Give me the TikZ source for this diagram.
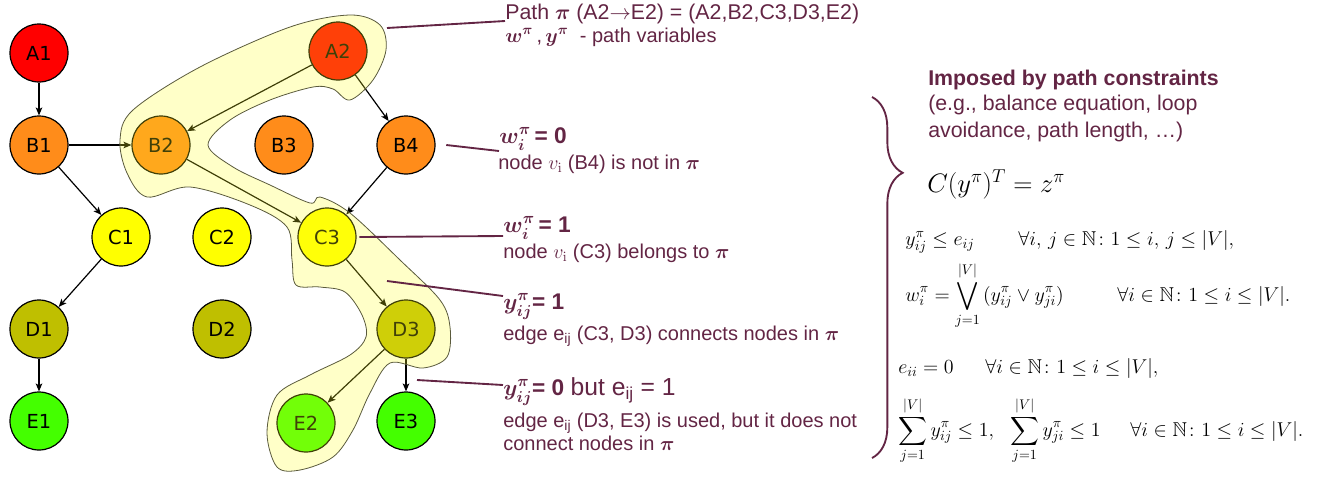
\documentclass[tikz,border=0pt]{standalone}
\usepackage{fix-cm}
\usepackage{amsmath,amssymb}
\usepackage[no-math]{fontspec}
\setmainfont{Liberation Sans}
\newfontfamily\nodefont{DejaVu Sans}
\usetikzlibrary{arrows.meta,decorations.pathreplacing}
\definecolor{tc}{RGB}{99,37,68}
\definecolor{cA}{RGB}{255,0,0}
\definecolor{cB}{RGB}{255,140,26}
\definecolor{cC}{RGB}{255,255,0}
\definecolor{cD}{RGB}{191,191,0}
\definecolor{cE}{RGB}{68,255,0}
\definecolor{blobc}{RGB}{255,255,35}
\definecolor{blobline}{RGB}{90,90,60}
\tikzset{
  gnode/.style={circle, draw=black, line width=0.9pt, minimum size=43.5pt, inner sep=0pt,
     font=\nodefont\fontsize{14.5}{16}\selectfont},
  edge/.style={line width=0.9pt, -{Stealth[length=6pt,width=5pt,inset=1.5pt]}},
  lbl/.style={anchor=base west, text=tc, inner sep=0pt, font=\fontsize{15}{18}\selectfont},
  head/.style={anchor=base west, text=tc, inner sep=0pt, font=\bfseries\fontsize{17}{20}\selectfont},
  pointer/.style={draw=tc, line width=1.4pt},
  eq/.style={anchor=base west, inner sep=0pt, font=\fontsize{15}{18}\selectfont},
}
\begin{document}
\begin{tikzpicture}[x=0.75pt,y=-0.75pt]
\useasboundingbox (0,0) rectangle (1320,476);
% nodes
\node[gnode, fill=cA] (A1) at (39,53) {A1};
\node[gnode, fill=cA] (A2) at (338,51) {A2};
\node[gnode, fill=cB] (B1) at (39,145) {B1};
\node[gnode, fill=cB] (B2) at (161,145) {B2};
\node[gnode, fill=cB] (B3) at (284,145) {B3};
\node[gnode, fill=cB] (B4) at (406,145) {B4};
\node[gnode, fill=cC] (C1) at (121,237) {C1};
\node[gnode, fill=cC] (C2) at (222,237) {C2};
\node[gnode, fill=cC] (C3) at (327,237) {C3};
\node[gnode, fill=cD] (D1) at (39,329) {D1};
\node[gnode, fill=cD] (D2) at (222,329) {D2};
\node[gnode, fill=cD] (D3) at (406,329) {D3};
\node[gnode, fill=cE] (E1) at (39,421) {E1};
\node[gnode, fill=cE] (E2) at (306,423) {E2};
\node[gnode, fill=cE] (E3) at (406,421) {E3};
% edges
\draw[edge] (A1) -- (B1);
\draw[edge] (B1) -- (B2);
\draw[edge] (B1) -- (C1);
\draw[edge] (A2) -- (B2);
\draw[edge] (A2) -- (B4);
\draw[edge] (B4) -- (C3);
\draw[edge] (B2) -- (C3);
\draw[edge] (C1) -- (D1);
\draw[edge] (D1) -- (E1);
\draw[edge] (C3) -- (D3);
\draw[edge] (D3) -- (E2);
\draw[edge] (D3) -- (E3);
% highlighted path region
\draw[fill=blobc, fill opacity=0.25, draw=blobline, line width=0.6pt]
  plot[smooth cycle, tension=0.55] coordinates {
  (350,15) (380,25) (386,50) (373,80) (350,100) (333,89) (313,87) (270,100)
  (230,120) (208,145) (233,167) (270,185) (310,203) (320,197) (350,213)
  (400,260) (440,300) (450,327) (447,357) (423,368) (390,363) (370,393)
  (353,430) (333,457) (300,470) (277,467) (267,433) (277,395) (310,375)
  (350,355) (366,337) (362,315) (345,292) (320,287) (296,285) (292,260)
  (287,227) (250,205) (190,187) (147,197) (127,173) (120,140) (133,110)
  (200,67) (290,27)};
% left-hand labels
\node[lbl, font=\fontsize{16}{19}\selectfont] (t1) at (505,19) {Path $\boldsymbol{\pi}$ (A2$\rightarrow$E2) = (A2,B2,C3,D3,E2)};
\node[lbl] (t2) at (505,42) {$\boldsymbol{w^{\pi}}$\,,\,$\boldsymbol{y^{\pi}}$\ \ - path variables};
\node[head] (h1) at (499,143) {$\boldsymbol{w_i^{\pi}}$\,= 0};
\node[lbl] (s1) at (498,169) {node $v_{\mathrm{i}}$ (B4) is not in $\boldsymbol{\pi}$};
\node[head] (h2) at (503,232) {$\boldsymbol{w_i^{\pi}}$\,= 1};
\node[lbl] (s2) at (503,258) {node $v_{\mathrm{i}}$ (C3) belongs to $\boldsymbol{\pi}$};
\node[head] (h3) at (503,309) {$\boldsymbol{y_{ij}^{\pi}}$= 1};
\node[lbl] (s3) at (503,340) {edge e\textsubscript{ij} (C3, D3) connects nodes in $\boldsymbol{\pi}$};
\node[head] (h4) at (503,395) {$\boldsymbol{y_{ij}^{\pi}}$= 0 \mdseries\fontsize{18.5}{20}\selectfont but e\textsubscript{ij} = 1};
\node[lbl] (s4) at (503,427) {edge e\textsubscript{ij} (D3, E3) is used, but it does not};
\node[lbl] (s5) at (503,450) {connect nodes in $\boldsymbol{\pi}$};
% pointer lines
\coordinate (p1) at (387,28);
\coordinate (p4) at (387,281);
\coordinate (p5) at (417,380);
\draw[pointer] (p1) -- (t1.west |- 0,21) ;
\draw[pointer] (B4.east) ++(8pt,0) -- (h1.west |- 0,151);
\draw[pointer] (C3.east) ++(2pt,0) -- (h2.west |- 0,236);
\draw[pointer] (p4) -- (h3.west |- 0,296);
\draw[pointer] (p5) -- (h4.west |- 0,385);
% right-hand side
\coordinate (br1) at (872,97);
\coordinate (br2) at (872,458);
\draw[draw=tc, line width=1.4pt, decorate,
  decoration={brace, amplitude=23pt, aspect=0.21}] (br1) -- (br2);
\node[head, font=\bfseries\fontsize{16}{19}\selectfont] (r1) at (928,85) {Imposed by path constraints};
\node[lbl, font=\fontsize{16}{19}\selectfont] (r2) at (928,110) {(e.g., balance equation, loop};
\node[lbl, font=\fontsize{16}{19}\selectfont] (r3) at (928,137) {avoidance, path length, \dots)};
\node[eq, font=\fontsize{20}{24}\selectfont] (m0) at (927,192) {$C(y^{\pi})^{T} = z^{\pi}$};
\node[eq] (m1a) at (905,245) {$y^{\pi}_{ij}\le e_{ij}$};
\node[eq] (m1b) at (1018,245) {$\forall i,\,j\in\mathbb{N}\colon 1\le i,\,j\le |V|,$};
\node[eq] (m2a) at (905,301) {$\displaystyle w^{\pi}_{i}=\bigvee_{j=1}^{|V|}\,(y^{\pi}_{ij}\vee y^{\pi}_{ji})$};
\node[eq] (m2b) at (1117,301) {$\forall i\in\mathbb{N}\colon 1\le i\le |V|.$};
\node[eq] (m3a) at (898,373) {$e_{ii}=0$};
\node[eq] (m3b) at (985,373) {$\forall i\in\mathbb{N}\colon 1\le i\le |V|,$};
\node[eq] (m4a) at (898,436) {$\displaystyle \sum_{j=1}^{|V|} y^{\pi}_{ij}\le 1,$};
\node[eq] (m4c) at (1010,436) {$\displaystyle \sum_{j=1}^{|V|} y^{\pi}_{ji}\le 1$};
\node[eq] (m4b) at (1130,436) {$\forall i\in\mathbb{N}\colon 1\le i\le |V|.$};
\end{tikzpicture}
\end{document}
